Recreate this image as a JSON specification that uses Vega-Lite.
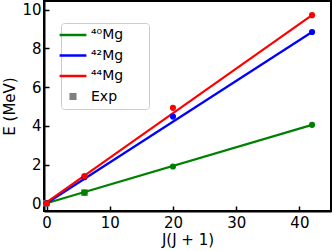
{
  "$schema": "https://vega.github.io/schema/vega-lite/v6.json",
  "width": 287,
  "height": 210,
  "autosize": {"type": "none"},
  "padding": {"left": 44, "top": 1, "right": 1, "bottom": 40},
  "config": {
    "font": "DejaVu Sans",
    "view": {"stroke": "black", "strokeWidth": 2},
    "axis": {
      "domainColor": "black", "domainWidth": 2,
      "tickColor": "black", "tickWidth": 1.5, "tickSize": -5,
      "labelFontSize": 15, "labelColor": "black", "labelFont": "DejaVu Sans",
      "titleFontSize": 15, "titleColor": "black", "titleFontWeight": "normal", "titleFont": "DejaVu Sans",
      "grid": false
    }
  },
  "datasets": {
    "fit": [
      {"x": 0, "y": 0.0, "series": "⁴⁰Mg"},
      {"x": 42, "y": 4.05, "series": "⁴⁰Mg"},
      {"x": 0, "y": 0.0, "series": "⁴²Mg"},
      {"x": 42, "y": 8.85, "series": "⁴²Mg"},
      {"x": 0, "y": 0.05, "series": "⁴⁴Mg"},
      {"x": 42, "y": 9.72, "series": "⁴⁴Mg"}
    ],
    "calc": [
      {"x": 0, "y": 0.0, "series": "⁴⁰Mg"},
      {"x": 6, "y": 0.55, "series": "⁴⁰Mg"},
      {"x": 20, "y": 1.9, "series": "⁴⁰Mg"},
      {"x": 42, "y": 4.05, "series": "⁴⁰Mg"},
      {"x": 0, "y": 0.0, "series": "⁴²Mg"},
      {"x": 6, "y": 1.35, "series": "⁴²Mg"},
      {"x": 20, "y": 4.48, "series": "⁴²Mg"},
      {"x": 42, "y": 8.85, "series": "⁴²Mg"},
      {"x": 0, "y": 0.0, "series": "⁴⁴Mg"},
      {"x": 6, "y": 1.41, "series": "⁴⁴Mg"},
      {"x": 20, "y": 4.93, "series": "⁴⁴Mg"},
      {"x": 42, "y": 9.72, "series": "⁴⁴Mg"}
    ],
    "exp": [
      {"x": 0, "y": 0.0, "series": "Exp"},
      {"x": 6, "y": 0.55, "series": "Exp"}
    ]
  },
  "layer": [
    {
      "data": {"name": "exp"},
      "mark": {"type": "square", "filled": true, "size": 45, "opacity": 1},
      "encoding": {
        "x": {"field": "x", "type": "quantitative"},
        "y": {"field": "y", "type": "quantitative"},
        "color": {"field": "series", "type": "nominal"}
      }
    },
    {
      "data": {"name": "fit"},
      "mark": {"type": "line", "strokeWidth": 2.2},
      "encoding": {
        "x": {"field": "x", "type": "quantitative",
              "scale": {"domain": [-0.4, 45], "nice": false, "zero": false},
              "axis": {"title": "J(J + 1)", "values": [0, 10, 20, 30, 40], "titlePadding": 2, "labelPadding": 9}},
        "y": {"field": "y", "type": "quantitative",
              "scale": {"domain": [-0.4, 10.45], "nice": false, "zero": false},
              "axis": {"title": "E (MeV)", "values": [0, 2, 4, 6, 8, 10], "titlePadding": 4, "labelPadding": 8}},
        "color": {"field": "series", "type": "nominal",
          "scale": {"domain": ["⁴⁰Mg", "⁴²Mg", "⁴⁴Mg", "Exp"], "range": ["#008000", "#0000ff", "#ff0000", "#808080"]},
          "legend": {
            "title": null, "orient": "none", "legendX": 17, "legendY": 22,
            "symbolType": "stroke", "symbolSize": 1300, "symbolStrokeWidth": 2.5,
            "labelFontSize": 14, "labelColor": "black", "labelFont": "DejaVu Sans", "labelOffset": 11,
            "labelExpr": "datum.label + '\u2800\u2800'",
            "rowPadding": 6.5, "padding": 5,
            "strokeColor": "#cccccc", "fillColor": "rgba(255,255,255,0.8)", "cornerRadius": 3,
            "encode": {"symbols": {"update": {
              "shape": {"signal": "datum.value === 'Exp' ? 'square' : 'stroke'"},
              "size": {"signal": "datum.value === 'Exp' ? 50 : 720"},
              "fill": {"signal": "datum.value === 'Exp' ? '#808080' : 'transparent'"},
              "strokeWidth": {"signal": "datum.value === 'Exp' ? 0 : 2.5"}
            }}}
          }}
      }
    },
    {
      "data": {"name": "calc"},
      "mark": {"type": "circle", "size": 38, "opacity": 1},
      "encoding": {
        "x": {"field": "x", "type": "quantitative"},
        "y": {"field": "y", "type": "quantitative"},
        "color": {"field": "series", "type": "nominal"}
      }
    }
  ]
}
